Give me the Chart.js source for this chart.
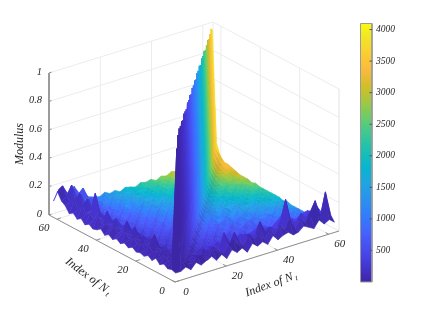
<!DOCTYPE html>
<html>
<head>
<meta charset="utf-8">
<style>
  html, body { margin: 0; padding: 0; background: #fff; }
  canvas { display: block; filter: blur(0.35px); }
</style>
</head>
<body>
<canvas id="chart" width="423" height="317"></canvas>
<script src="https://cdn.jsdelivr.net/npm/chart.js@4"></script>
<script>
// index of Nt on both floor axes
const indexNt = [1, 3, 5, 7, 9, 11, 13, 15, 17, 19, 21, 23, 25, 27, 29, 31, 33, 35, 37, 39, 41, 43, 45, 47, 49, 51, 53, 55, 57, 59, 61, 63];

// modulus x 100. rows = left axis, columns = right axis
const modulus = [
  [5,5,7,4,8,5,7,9,5,8,4,9,6,8,4,9,6,8,5,10,6,8,9,6,7,10,8,6,11,7,9,6],
  [6,90,10,7,6,10,9,5,12,8,6,11,13,9,7,14,9,12,7,11,8,13,9,15,8,13,10,16,23,11,27,10],
  [5,11,97,11,7,9,6,11,8,10,6,18,9,16,8,12,10,9,18,10,12,9,14,28,12,10,15,11,14,17,11,9],
  [7,8,10,99,10,7,6,9,6,9,7,8,10,7,9,11,8,9,11,8,10,9,12,15,9,11,8,12,13,10,9,6],
  [5,10,7,10,98,9,6,5,7,4,6,5,3,6,5,7,4,7,5,6,8,5,7,8,9,5,7,8,6,8,5,5],
  [8,7,11,7,9,99,9,6,3,5,2,5,6,3,5,2,6,3,5,6,2,5,3,6,4,7,3,5,3,6,3,3],
  [5,11,8,8,5,8,97,9,6,2,5,3,6,2,5,4,2,5,3,2,6,3,5,2,5,3,2,5,3,4,2,3],
  [7,8,10,7,6,6,9,99,9,5,2,6,3,5,2,4,6,2,5,3,2,5,3,2,5,3,6,2,4,2,3,2],
  [5,11,18,8,6,3,5,9,98,9,6,2,5,3,6,2,3,5,2,4,6,3,2,5,3,4,2,3,2,4,2,2],
  [6,7,10,9,5,6,2,5,9,97,9,5,2,6,3,5,2,4,6,2,3,5,4,2,3,5,3,2,4,2,3,2],
  [5,10,7,11,7,3,6,2,5,9,99,9,6,2,5,3,6,2,3,5,4,2,3,5,2,3,2,4,2,3,2,2],
  [7,8,12,8,5,5,3,6,2,5,9,98,10,5,2,6,3,4,6,2,3,5,3,2,4,2,3,2,4,2,2,2],
  [5,11,8,10,6,2,6,3,5,2,6,10,99,10,6,2,5,3,2,6,3,4,3,5,2,3,2,4,2,3,2,3],
  [7,8,16,7,5,6,2,5,3,6,2,5,10,97,10,5,3,6,2,4,3,2,5,2,3,2,4,2,2,3,3,2],
  [5,12,9,11,6,3,5,2,6,3,5,2,6,10,99,10,6,2,5,3,4,3,2,4,2,3,4,2,3,2,2,3],
  [7,9,17,8,6,5,2,6,3,5,2,6,3,5,10,98,10,6,4,2,3,5,3,4,3,2,2,4,3,3,2,3],
  [5,8,10,13,5,3,6,2,5,3,6,2,5,3,6,10,99,11,6,5,3,4,2,4,3,4,3,2,4,2,3,3],
  [7,12,8,10,7,5,2,5,3,6,2,5,3,6,2,6,11,97,11,6,5,2,5,3,4,2,4,3,3,4,3,3],
  [5,9,13,7,5,3,6,2,5,3,6,2,6,2,5,5,6,11,99,11,6,5,3,5,3,5,3,4,3,3,4,3],
  [8,11,9,12,6,5,3,5,2,6,3,5,2,5,3,5,5,6,11,98,12,6,5,4,5,3,4,3,4,3,3,3],
  [6,8,17,8,5,2,6,3,5,2,5,3,6,2,5,3,5,5,6,12,99,12,6,5,3,5,3,5,3,4,3,4],
  [5,13,9,11,6,5,2,5,3,5,2,6,3,5,2,5,3,5,5,6,12,97,12,6,5,4,5,3,5,4,3,3],
  [7,9,14,8,5,3,5,2,6,3,5,2,5,2,4,3,5,3,5,5,6,12,99,13,6,5,4,5,4,3,4,4],
  [5,12,25,9,7,5,3,4,2,5,3,4,2,5,3,5,3,5,3,5,5,6,13,98,13,7,5,5,4,5,4,4],
  [8,10,12,14,5,3,5,2,5,2,4,3,5,2,4,2,5,3,5,3,5,5,6,13,99,14,7,6,5,6,4,4],
  [6,14,18,9,8,4,2,5,3,4,2,5,2,4,3,4,3,4,3,5,3,5,5,7,14,97,14,7,6,5,6,5],
  [9,10,12,15,6,6,3,4,2,5,2,4,3,4,2,4,3,4,3,4,5,3,5,5,7,14,98,15,7,6,6,6],
  [7,15,19,10,9,5,5,3,4,2,4,2,4,2,4,3,4,3,4,3,4,5,3,5,5,7,15,99,15,8,6,7],
  [11,13,12,16,7,11,6,4,2,4,2,4,2,4,2,3,4,3,4,3,4,3,5,3,5,6,7,15,97,16,9,7],
  [13,15,22,11,10,8,5,5,3,2,4,2,4,2,4,2,4,3,3,4,3,4,3,5,3,6,6,8,16,98,16,10],
  [18,21,14,17,9,15,7,6,2,4,2,4,2,3,2,4,3,2,4,3,4,3,4,3,5,4,6,6,8,16,99,18],
  [10,17,15,12,16,10,8,5,4,3,5,3,4,2,4,3,2,4,3,4,2,4,3,5,4,6,4,6,7,9,18,96]
];

const indexTicks = [0, 20, 40, 60];
const modulusTicks = [0, 0.2, 0.4, 0.6, 0.8, 1];
const colorTicks = [500, 1000, 1500, 2000, 2500, 3000, 3500, 4000];

const parula = [
  [62,38,168],[69,55,213],[72,77,240],[69,99,253],[50,124,252],[43,145,239],
  [32,165,226],[8,181,208],[25,191,182],[55,200,151],[100,205,111],[157,201,67],
  [209,191,39],[248,186,61],[252,204,48],[240,228,40],[249,251,14]
];

const axisMax = 64;
const colorMax = 4096;

function colorAt(c, shade = 1) {
    const t = Math.min(1, Math.max(0, c / colorMax)) * (parula.length - 1);
    const a = Math.floor(t);
    const b = Math.min(parula.length - 1, a + 1);
    const f = t - a;
    const rgb = [0, 1, 2].map(n => Math.min(255, Math.round((parula[a][n] + (parula[b][n] - parula[a][n]) * f) * shade)));
    return `rgb(${rgb[0]},${rgb[1]},${rgb[2]})`;
}

// 3D box to canvas position
function project(i, j, z) {
    return {
        x: 175 + 164 * j / axisMax - 126 * i / axisMax,
        y: 282 - 51 * j / axisMax - 67 * i / axisMax - 142 * z
    };
}

function lineSet(points, color, width) {
    return {
        data: points,
        borderColor: color,
        borderWidth: width,
        pointRadius: 0,
        fill: false
    };
}

// first dataset ends up on top, so surface goes front to back, box after it
const datasets = [];

const quads = [];
for (let r = 0; r < indexNt.length - 1; r++) {
    for (let c = 0; c < indexNt.length - 1; c++) {
        quads.push({ r, c });
    }
}
quads.sort((a, b) => (a.r + a.c) - (b.r + b.c));

quads.forEach(({ r, c }) => {
    const corners = [[r, c], [r + 1, c], [r + 1, c + 1], [r, c + 1], [r, c]];
    const points = corners.map(([a, b]) => project(indexNt[a], indexNt[b], modulus[a][b] / 100));
    // light facet shading on the low part, none on the wall
    const tilt = (modulus[r][c + 1] - modulus[r + 1][c]) / 100;
    const shade = Math.abs(tilt) > 0.3 ? 1 : 1 + Math.max(-0.09, Math.min(0.09, tilt * 1.6));
    const color = colorAt((indexNt[r] + 1) * (indexNt[c] + 1), shade);
    datasets.push({
        data: points,
        borderColor: color,
        backgroundColor: color,
        borderWidth: 0.6,
        pointRadius: 0,
        fill: "shape"
    });
});

const axisColor = "#8f8f8f";
const gridColor = "#ececec";

// ticks and dark edges
modulusTicks.forEach(z => {
    const a = project(axisMax, 0, z);
    datasets.push(lineSet([a, { x: a.x + 2.5, y: a.y - 0.8 }], axisColor, 1));
});
indexTicks.forEach(t => {
    const a = project(t, 0, 0);
    datasets.push(lineSet([a, project(t, 1.6, 0)], axisColor, 1));
    const b = project(0, t, 0);
    datasets.push(lineSet([b, project(1.6, t, 0)], axisColor, 1));
});
datasets.push(lineSet([project(axisMax, 0, 1), project(axisMax, 0, 0), project(0, 0, 0), project(0, axisMax, 0)], axisColor, 1));

// back walls and floor grid
modulusTicks.forEach(z => {
    datasets.push(lineSet([project(axisMax, 0, z), project(axisMax, axisMax, z), project(0, axisMax, z)], gridColor, 1));
});
indexTicks.forEach(t => {
    datasets.push(lineSet([project(axisMax, t, 0), project(axisMax, t, 1)], gridColor, 1));
    datasets.push(lineSet([project(t, axisMax, 0), project(t, axisMax, 1)], gridColor, 1));
    datasets.push(lineSet([project(axisMax, t, 0), project(0, t, 0)], gridColor, 1));
    datasets.push(lineSet([project(t, 0, 0), project(t, axisMax, 0)], gridColor, 1));
});
datasets.push(lineSet([project(axisMax, axisMax, 0), project(axisMax, axisMax, 1)], gridColor, 1));
datasets.push(lineSet([project(0, axisMax, 0), project(0, axisMax, 1)], gridColor, 1));
datasets.push(lineSet([project(axisMax, axisMax, 0), project(axisMax, 0, 0)], gridColor, 1));
datasets.push(lineSet([project(axisMax, axisMax, 0), project(0, axisMax, 0)], gridColor, 1));

// Colorbar
const barLeft = 360.5, barRight = 372, barTop = 23.5, barBottom = 282;
const barY = v => barBottom - (barBottom - barTop) * v / colorMax;

colorTicks.forEach(v => {
    datasets.push(lineSet([{ x: barRight - 2.5, y: barY(v) }, { x: barRight, y: barY(v) }], "#555", 1));
});
datasets.push(lineSet([
    { x: barLeft, y: barTop }, { x: barRight, y: barTop }, { x: barRight, y: barBottom },
    { x: barLeft, y: barBottom }, { x: barLeft, y: barTop }
], "#9a9a9a", 1));
for (let v = 0; v < colorMax; v += 32) {
    const mid = (barLeft + barRight) / 2;
    const top = Math.max(barTop, barY(v + 32) - 1);
    datasets.push(lineSet([{ x: mid, y: barY(v) }, { x: mid, y: top }], colorAt(v + 16), barRight - barLeft));
}

function drawIndexLabel(ctx, cx, cy, angle) {
    ctx.save();
    ctx.translate(cx, cy);
    ctx.rotate(angle);
    ctx.font = "italic 12px 'Liberation Serif'";
    ctx.textAlign = "left";
    const w = ctx.measureText("Index of N").width;
    ctx.fillText("Index of N", -w / 2 - 3, 0);
    ctx.font = "italic 8px 'Liberation Serif'";
    ctx.fillText("t", w / 2 - 1, 3);
    ctx.restore();
}

const textPlugin = {
    id: "textPlugin",
    afterDraw(chart) {
        const ctx = chart.ctx;
        ctx.save();
        ctx.fillStyle = "#262626";
        ctx.textBaseline = "middle";

        ctx.font = "italic 10.5px 'Liberation Serif'";
        ctx.textAlign = "right";
        modulusTicks.forEach(z => {
            const p = project(axisMax, 0, z);
            ctx.fillText(String(z), p.x - 7, p.y - 1);
        });

        ctx.font = "italic 11px 'Liberation Serif'";
        ctx.textAlign = "center";
        indexTicks.forEach(t => {
            const a = project(t, 0, 0);
            ctx.fillText(String(t), a.x - 13, a.y + 9);
            const b = project(0, t, 0);
            ctx.fillText(String(t), b.x + 11, b.y + 10);
        });

        ctx.font = "italic 9.5px 'Liberation Serif'";
        ctx.textAlign = "left";
        colorTicks.forEach(v => {
            ctx.fillText(String(v), 376, barY(v));
        });

        ctx.save();
        ctx.translate(20, 144);
        ctx.rotate(-Math.PI / 2);
        ctx.font = "italic 12px 'Liberation Serif'";
        ctx.textAlign = "center";
        ctx.fillText("Modulus", 0, 0);
        ctx.restore();

        drawIndexLabel(ctx, 89, 277, 37 * Math.PI / 180);
        drawIndexLabel(ctx, 272, 284, -20 * Math.PI / 180);
        ctx.restore();
    }
};

new Chart(document.getElementById("chart"), {
    type: "line",
    data: { datasets },
    plugins: [textPlugin],
    options: {
        responsive: false,
        animation: false,
        events: [],
        layout: { padding: 0 },
        plugins: {
            legend: { display: false },
            tooltip: { enabled: false }
        },
        scales: {
            x: { type: "linear", min: 0, max: 423, display: false },
            y: { type: "linear", min: 0, max: 317, reverse: true, display: false }
        }
    }
});
</script>
</body>
</html>
